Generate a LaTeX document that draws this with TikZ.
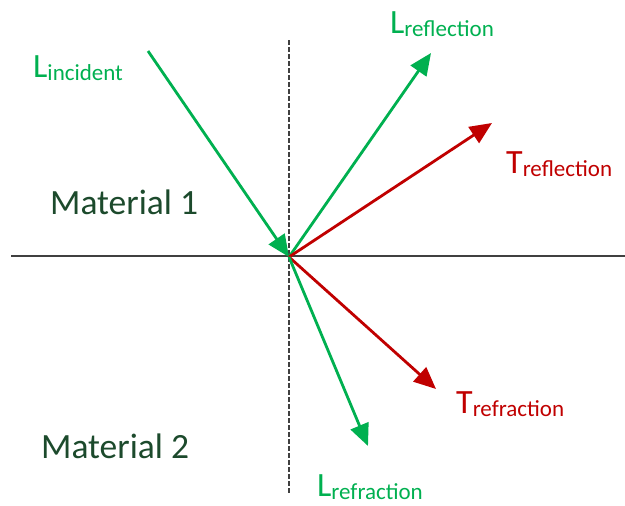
\documentclass[tikz,border=0pt]{standalone}
\usepackage{fontspec}
\setmainfont{Carlito}
\usetikzlibrary{arrows.meta, positioning}
\definecolor{raygreen}{RGB}{0, 176, 80}
\definecolor{rayred}{RGB}{192, 0, 0}
\definecolor{matgreen}{RGB}{28, 74, 44}
\definecolor{axisgray}{RGB}{64, 64, 64}
\newcommand{\lowtxt}[1]{\raisebox{-0.1em}{\fontsize{23}{23}\selectfont #1}}

\begin{document}
\begin{tikzpicture}[x=1pt, y=-1pt,
        garr/.style={-{Triangle[length=22pt, width=19pt]}, line width=2.8pt, raygreen},
        rarr/.style={-{Triangle[length=22pt, width=19pt]}, line width=2.8pt, rayred},
        lbl/.style={anchor=base west, inner sep=0pt, font=\fontsize{34}{34}\selectfont},
        mat/.style={lbl, text=matgreen, font=\fontsize{35.5}{35.5}\selectfont}
      ]
        \useasboundingbox (0,0) rectangle (625,506);
        % Grenzflaeche und Normale
        \coordinate (o) at (289,257);
        \coordinate (left) at (11,256);
        \coordinate (right) at (625,256);
        \coordinate (ntop) at (289,40);
        \coordinate (nbot) at (289,494);
        \draw[axisgray, line width=2pt] (left) -- (right);
        \draw[axisgray, line width=1.6pt, dash pattern=on 4.5pt off 2.5pt] (ntop) -- (nbot);
        % Strahlen
        \coordinate (linc) at (148,51);
        \coordinate (lrefl) at (431,53);
        \coordinate (trefl) at (492,123);
        \coordinate (trefr) at (436,389);
        \coordinate (lrefr) at (368,446);
        \draw[garr] (linc) -- (o);
        \draw[garr] (o) -- (lrefl);
        \draw[rarr] (o) -- (trefl);
        \draw[rarr] (o) -- (trefr);
        \draw[garr] (o) -- (lrefr);
        % Beschriftungen
        \node[lbl, text=raygreen] (tlinc) at (33,77) {L\lowtxt{incident}};
        \node[lbl, text=raygreen] (tlrefl) at (390,33) {L\lowtxt{reflection}};
        \node[lbl, text=rayred] (ttrefl) at (506,173) {T\lowtxt{reflection}};
        \node[lbl, text=rayred] (ttrefr) at (456,413) {T\lowtxt{refraction}};
        \node[lbl, text=raygreen] (tlrefr) at (317,496) {L\lowtxt{refraction}};
        \node[mat] (m1) at (50,214) {Material 1};
        \node[mat] (m2) at (41,458) {Material 2};
      \end{tikzpicture}
\end{document}
